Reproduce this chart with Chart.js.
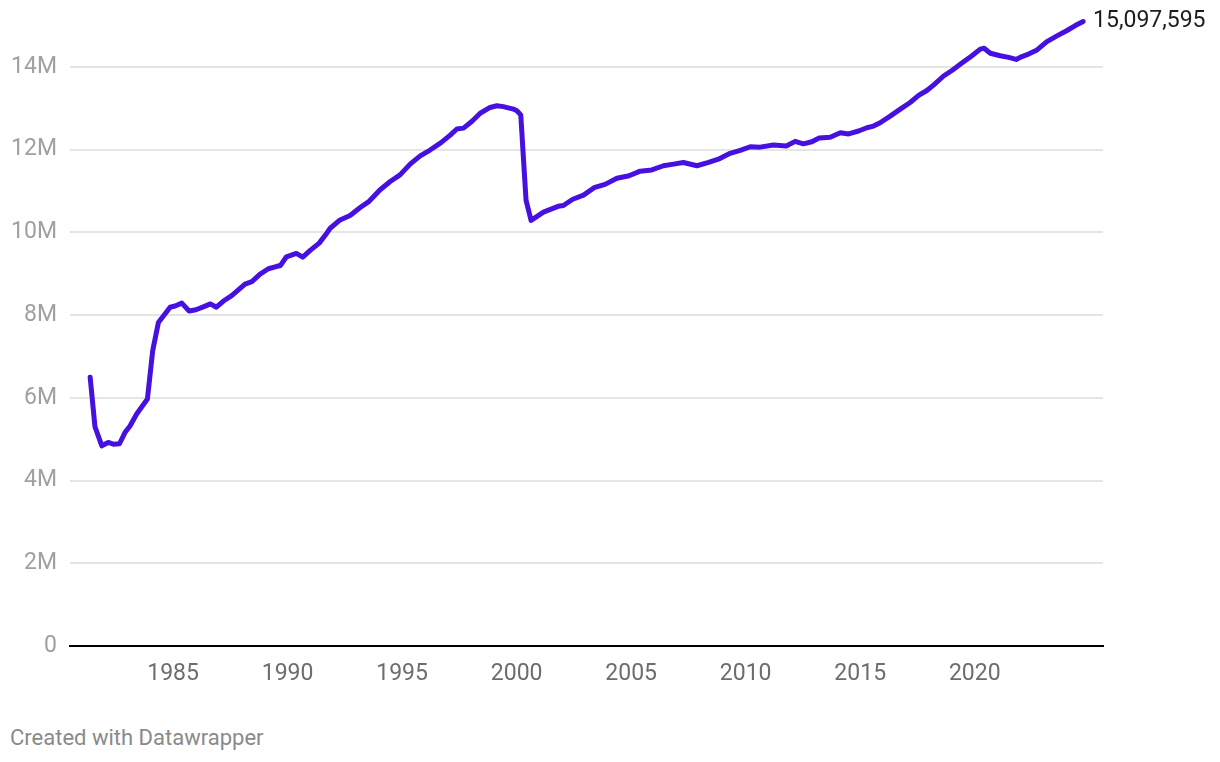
<!DOCTYPE html>
<html>
<head>
<meta charset="utf-8">
<script src="https://cdn.jsdelivr.net/npm/chart.js@4/dist/chart.umd.min.js"></script>
<style>
    body { margin: 0; background: #fff; }
    #wrap { position: relative; width: 1220px; height: 762px; }
    #chart { position: absolute; left: 0; top: 0; }
    .credit {
        position: absolute; left: 10px; top: 725px;
        font: 22px Roboto, sans-serif; line-height: 26px; color: #8a8a8a;
    }
</style>
</head>
<body>
<div id="wrap">
    <canvas id="chart" width="1220" height="700"></canvas>
    <div class="credit">Created with Datawrapper</div>
</div>
<script>
// quarters, as decimal years
const years = [
    1981.38, 1981.59, 1981.89, 1982.17, 1982.39, 1982.66, 1982.90, 1983.12, 1983.41, 1983.88,
    1984.11, 1984.36, 1984.87, 1985.09, 1985.38, 1985.70, 1986.00, 1986.32, 1986.63, 1986.89,
    1987.20, 1987.56, 1987.85, 1988.14, 1988.44, 1988.80, 1989.16, 1989.54, 1989.69, 1989.95,
    1990.38, 1990.66, 1991.00, 1991.38, 1991.71, 1991.86, 1992.29, 1992.73, 1993.17, 1993.56,
    1994.04, 1994.48, 1994.91, 1995.35, 1995.79, 1996.22, 1996.70, 1997.10, 1997.39, 1997.68,
    1998.04, 1998.41, 1998.84, 1999.14, 1999.42, 1999.86, 2000.01, 2000.18, 2000.41, 2000.63,
    2001.17, 2001.81, 2002.04, 2002.45, 2002.92, 2003.38, 2003.86, 2004.38, 2004.91, 2005.39,
    2005.90, 2006.41, 2006.85, 2007.28, 2007.87, 2008.38, 2008.81, 2009.32, 2009.76, 2010.20,
    2010.63, 2011.21, 2011.77, 2012.16, 2012.52, 2012.89, 2013.21, 2013.69, 2014.13, 2014.49,
    2014.93, 2015.29, 2015.58, 2015.87, 2016.31, 2016.75, 2017.18, 2017.55, 2017.91, 2018.20,
    2018.64, 2019.02, 2019.41, 2019.88, 2020.24, 2020.41, 2020.68, 2021.11, 2021.48, 2021.81,
    2022.06, 2022.35, 2022.72, 2023.15, 2023.59, 2024.03, 2024.39, 2024.73
];

// millions
const values = [
    6.50, 5.30, 4.84, 4.92, 4.88, 4.89, 5.16, 5.32, 5.61, 5.97,
    7.14, 7.82, 8.19, 8.22, 8.29, 8.10, 8.13, 8.20, 8.27, 8.19,
    8.34, 8.47, 8.61, 8.75, 8.81, 8.99, 9.12, 9.18, 9.20, 9.41,
    9.49, 9.40, 9.57, 9.74, 9.98, 10.10, 10.30, 10.41, 10.60, 10.75,
    11.03, 11.23, 11.39, 11.65, 11.85, 11.99, 12.17, 12.35, 12.50, 12.52,
    12.68, 12.88, 13.02, 13.06, 13.04, 12.98, 12.94, 12.84, 10.78, 10.29,
    10.49, 10.63, 10.65, 10.80, 10.90, 11.08, 11.16, 11.31, 11.37, 11.48,
    11.51, 11.61, 11.65, 11.69, 11.61, 11.69, 11.77, 11.91, 11.98, 12.07,
    12.06, 12.11, 12.09, 12.20, 12.14, 12.19, 12.28, 12.30, 12.41, 12.38,
    12.45, 12.53, 12.57, 12.65, 12.81, 12.98, 13.14, 13.31, 13.43, 13.56,
    13.78, 13.92, 14.08, 14.27, 14.43, 14.45, 14.33, 14.27, 14.23, 14.18,
    14.25, 14.31, 14.41, 14.61, 14.75, 14.88, 15.00, 15.097595
];

const xTicks = [1985, 1990, 1995, 2000, 2005, 2010, 2015, 2020];
const yTicks = [0, 2, 4, 6, 8, 10, 12, 14];

const lineColor = '#4610e0';

// label on the last point
const endLabel = {
    id: 'endLabel',
    afterDatasetsDraw(chart) {
        const meta = chart.getDatasetMeta(0);
        const last = meta.data[meta.data.length - 1];
        const v = Math.round(values[values.length - 1] * 1e6);
        const ctx = chart.ctx;
        ctx.save();
        ctx.font = '23px Roboto';
        ctx.fillStyle = '#1d1d1d';
        ctx.textAlign = 'left';
        ctx.textBaseline = 'middle';
        ctx.fillText(v.toLocaleString('en-US'), last.x + 10, last.y);
        ctx.restore();
    }
};

new Chart(document.getElementById('chart'), {
    type: 'line',
    data: {
        datasets: [{
            data: years.map((y, i) => ({x: y, y: values[i]})),
            borderColor: lineColor,
            borderWidth: 5,
            borderJoinStyle: 'round',
            borderCapStyle: 'round',
            pointRadius: 0,
            tension: 0,
        }]
    },
    options: {
        responsive: false,
        devicePixelRatio: 1,
        animation: false,
        layout: {padding: {left: 0, right: 117, top: 9, bottom: 0}},
        plugins: {legend: {display: false}, tooltip: {enabled: false}},
        scales: {
            x: {
                type: 'linear',
                min: 1980.5,
                max: 2025.6,
                afterBuildTicks: s => { s.ticks = xTicks.map(v => ({value: v})); },
                afterFit: s => { s.height = 54; s.paddingLeft = 0; s.paddingRight = 0; },
                grid: {display: false, drawTicks: false},
                border: {display: true, color: '#000', width: 2},
                ticks: {
                    padding: 14,
                    color: '#6d6d6d',
                    font: {family: 'Roboto', size: 23},
                    callback: v => String(v),
                    maxRotation: 0,
                }
            },
            y: {
                min: 0,
                max: 15.4,
                afterBuildTicks: s => { s.ticks = yTicks.map(v => ({value: v})); },
                afterFit: s => { s.width = 70; s.paddingTop = 0; s.paddingBottom = 0; },
                grid: {
                    drawTicks: false,
                    lineWidth: 2,
                    color: c => c.tick && c.tick.value === 0 ? 'rgba(0,0,0,0)' : '#e5e5e5',
                },
                border: {display: false},
                ticks: {
                    padding: 13,
                    color: '#a0a0a0',
                    font: {family: 'Roboto', size: 23},
                    callback: v => v === 0 ? '0' : v + 'M',
                }
            }
        }
    },
    plugins: [endLabel]
});
</script>
</body>
</html>
